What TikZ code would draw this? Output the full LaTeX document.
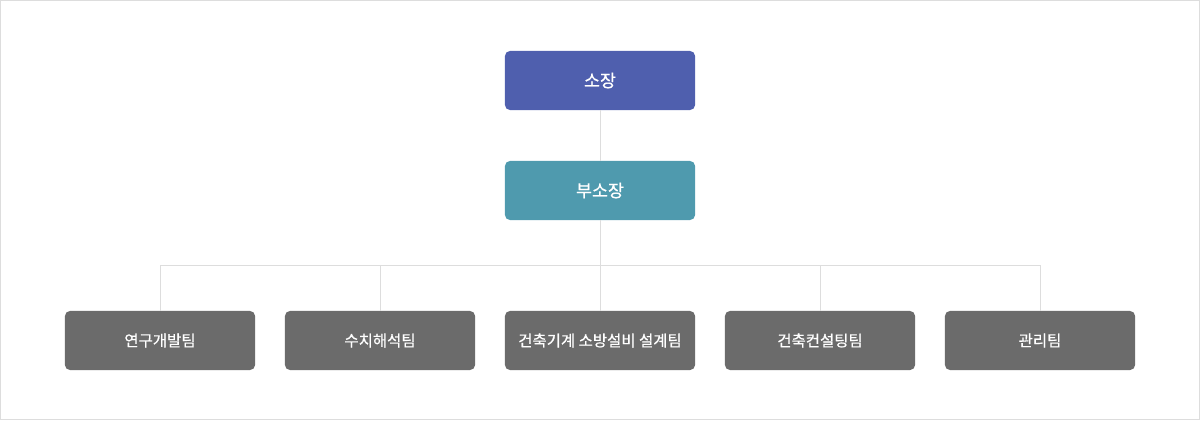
\documentclass[tikz,border=0pt]{standalone}
\usepackage{fontspec}
\usepackage{xcolor}
\newfontfamily\krfont[FakeBold=0.6]{Noto Sans CJK KR}
\definecolor{chiefblue}{HTML}{4F5FAE}
\definecolor{deputyteal}{HTML}{4F9AAE}
\definecolor{teamgray}{HTML}{6B6B6B}
\definecolor{linegray}{HTML}{DDDDDD}
\tikzset{
  orgbox/.style={rounded corners=3.5pt, minimum width=4.75cm, minimum height=1.475cm,
    inner sep=0pt, text=white, font=\krfont\fontsize{11}{13}\selectfont},
  headbox/.style={orgbox, font=\krfont\fontsize{12.3}{14}\selectfont},
  orgline/.style={draw=linegray, line width=0.6pt}
}
\begin{document}
\begin{tikzpicture}[x=0.025cm, y=-0.025cm]
    % Outer frame
    \draw [linegray, line width=0.7pt] (0.5,0.5) rectangle (1199.5,419.5);
    \useasboundingbox (0,0) rectangle (1200,420);

    % Define nodes for the boxes
    \node [headbox, fill=chiefblue] (chief) at (600,80.5) {소장};
    \node [headbox, fill=deputyteal] (deputy) at (600,190.5) {부소장};
    \node [orgbox, fill=teamgray] (research) at (160,340.5) {연구개발팀};
    \node [orgbox, fill=teamgray] (numeric) at (380,340.5) {수치해석팀};
    \node [orgbox, fill=teamgray] (design) at (600,340.5) {건축기계 소방설비 설계팀};
    \node [orgbox, fill=teamgray] (consult) at (820,340.5) {건축컨설팅팀};
    \node [orgbox, fill=teamgray] (admin) at (1040,340.5) {관리팀};

    % Branch point
    \coordinate (branch) at (600,265.5);

    % Draw the connectors
    \draw [orgline] (chief) -- (deputy);
    \draw [orgline] (deputy) -- (branch);
    \draw [orgline] (branch) -| (research);
    \draw [orgline] (branch) -| (numeric);
    \draw [orgline] (branch) -- (design);
    \draw [orgline] (branch) -| (consult);
    \draw [orgline] (branch) -| (admin);

\end{tikzpicture}
\end{document}
